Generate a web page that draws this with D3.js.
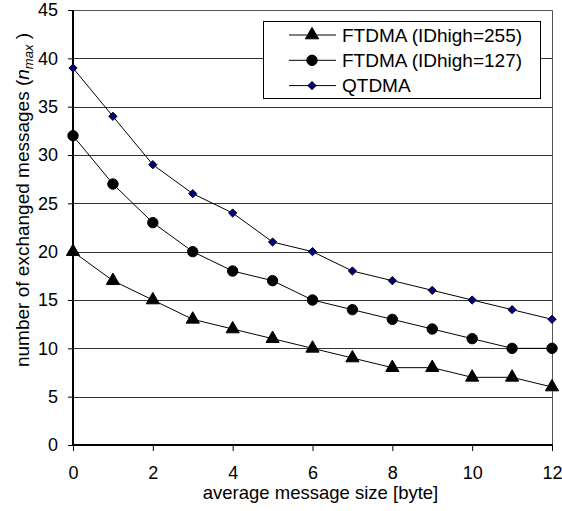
<!DOCTYPE html>
<html><head><meta charset="utf-8">
<script src="https://cdn.jsdelivr.net/npm/d3@7"></script>
<style>body{margin:0;background:#fff}svg{display:block;font-family:Arial,"Liberation Sans",sans-serif}</style>
</head><body><svg id="c" width="562" height="511"></svg>
<script>
const sizes = [0,1,2,3,4,5,6,7,8,9,10,11,12];
const ftdma255 = [20,17,15,13,12,11,10,9,8,8,7,7,6];
const ftdma127 = [32,27,23,20,18,17,15,14,13,12,11,10,10];
const qtdma = [39,34,29,26,24,21,20,18,17,16,15,14,13];
const seriesNames = ["FTDMA (IDhigh=255)","FTDMA (IDhigh=127)","QTDMA"];
const xTicks = [0,2,4,6,8,10,12];
const yTicks = [0,5,10,15,20,25,30,35,40,45];

const svg = d3.select("#c");
const L=73,R=552,T=10,B=445;
const x = d3.scaleLinear().domain([0,12]).range([L,R]);
const y = d3.scaleLinear().domain([0,45]).range([B,T]);

// gridlines
svg.append("g").selectAll("line").data(yTicks.filter(d=>d>0&&d<45)).join("line")
  .attr("x1",L).attr("x2",R).attr("y1",d=>Math.round(y(d))+0.5).attr("y2",d=>Math.round(y(d))+0.5)
  .attr("stroke","#333").attr("stroke-width",1);
// plot border top & right
svg.append("path").attr("d",`M${L},${T+0.5}H${R+0.5}V${B}`).attr("fill","none").attr("stroke","#555").attr("stroke-width",1);

// axes
const ya = svg.append("g").attr("transform",`translate(${L},0)`)
  .call(d3.axisLeft(y).tickValues(yTicks).tickSize(5).tickPadding(10));
const xa = svg.append("g").attr("transform",`translate(0,${B})`)
  .call(d3.axisBottom(x).tickValues(xTicks).tickSize(6).tickPadding(15));
[ya,xa].forEach(a=>{
  a.select(".domain").attr("stroke","#000").attr("stroke-width",2);
  a.selectAll(".tick line").attr("stroke","#000");
  a.selectAll(".tick text").attr("font-size",18).attr("fill","#000").attr("font-family","Arial,'Liberation Sans',sans-serif");
});
xa.select(".domain").attr("d",`M${L},0H${R+0.5}`);
ya.select(".domain").attr("d",`M0,${B}V${T}`);

// titles
svg.append("text").attr("x",(L+R)/2+8).attr("y",499).attr("text-anchor","middle")
  .attr("font-size",18.5).text("average message size [byte]");
const yt = svg.append("text").attr("transform","translate(29,200) rotate(-90)").attr("text-anchor","middle").attr("font-size",19);
yt.append("tspan").text("number of exchanged messages (");
yt.append("tspan").attr("font-style","italic").text("n");
yt.append("tspan").attr("font-size",13).attr("font-style","italic").attr("dy",4).text("max");
yt.append("tspan").attr("dy",-4).text(" )");

const diamond = {draw(ctx,size){const r=Math.sqrt(size/2);ctx.moveTo(0,-r);ctx.lineTo(r,0);ctx.lineTo(0,r);ctx.lineTo(-r,0);ctx.closePath();}};
const series = [
  {name:seriesNames[0], vals:ftdma255, sym:d3.symbolTriangle, size:75, fill:"#000"},
  {name:seriesNames[1], vals:ftdma127, sym:d3.symbolCircle, size:85, fill:"#000"},
  {name:seriesNames[2], vals:qtdma, sym:diamond, size:34, fill:"#000080"}
];
const line = d3.line().x((d,i)=>x(sizes[i])).y(d=>y(d));
series.forEach(s=>{
  svg.append("path").attr("d",line(s.vals)).attr("fill","none").attr("stroke","#000").attr("stroke-width",1);
  svg.append("g").selectAll("path").data(s.vals).join("path")
    .attr("transform",(d,i)=>`translate(${x(sizes[i])},${y(d)})`)
    .attr("d",d3.symbol(s.sym,s.size)).attr("fill",s.fill).attr("stroke","#000").attr("stroke-width",1);
});

// legend
const lg = svg.append("g");
lg.append("rect").attr("x",263.5).attr("y",21.5).attr("width",277).attr("height",77).attr("fill","#fff").attr("stroke","#000");
series.forEach((s,i)=>{
  const yy = 35+i*25.3;
  lg.append("line").attr("x1",289).attr("x2",336).attr("y1",yy).attr("y2",yy).attr("stroke","#000");
  lg.append("path").attr("transform",`translate(312,${yy})`).attr("d",d3.symbol(s.sym,s.size)).attr("fill",s.fill).attr("stroke","#000");
  lg.append("text").attr("x",342).attr("y",yy+6.5).attr("font-size",19).text(s.name);
});
</script></body></html>
